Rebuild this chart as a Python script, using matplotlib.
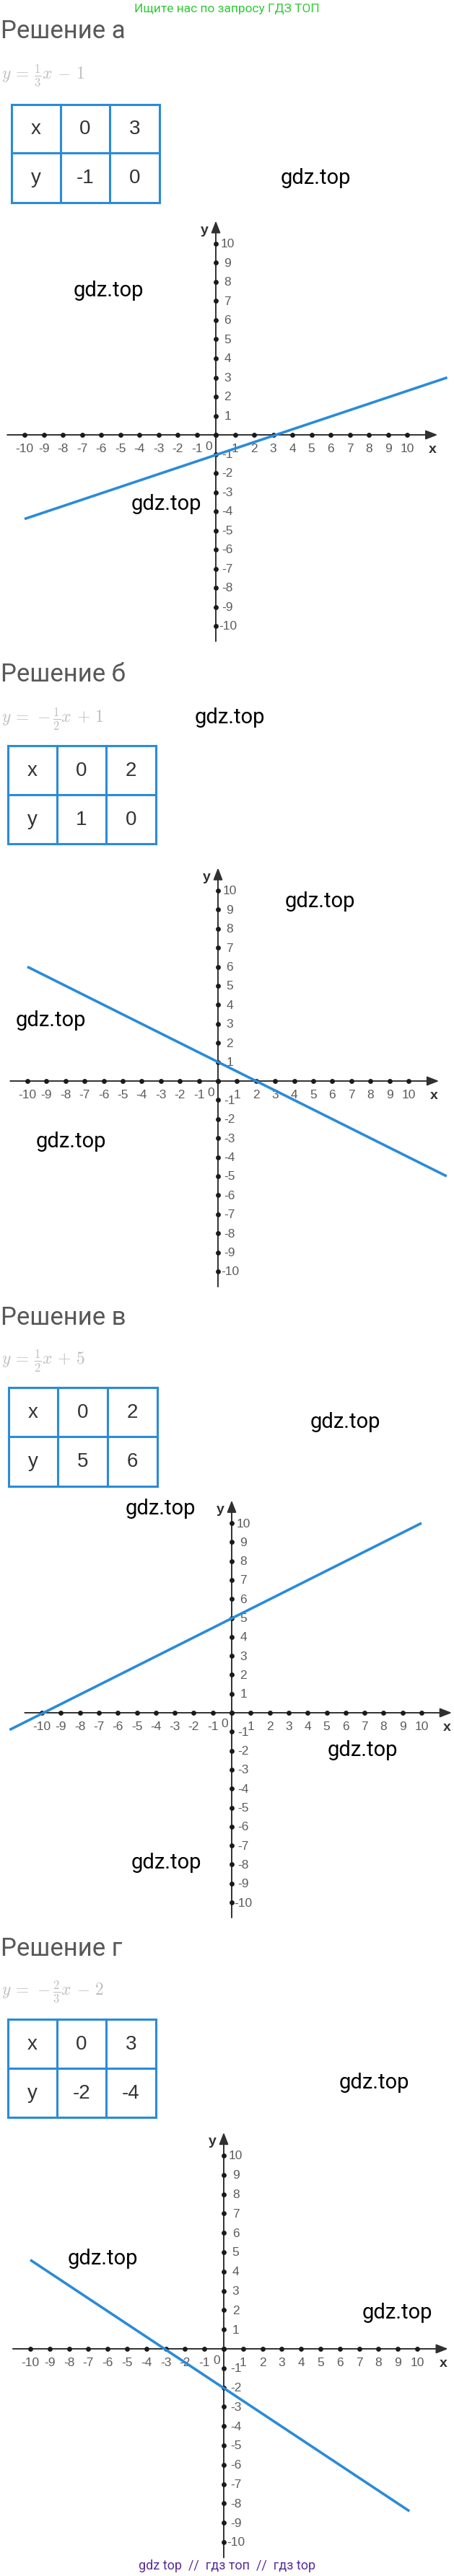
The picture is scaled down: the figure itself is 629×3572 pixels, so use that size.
import matplotlib
matplotlib.use("Agg")
import matplotlib.pyplot as plt

plt.rcParams["mathtext.fontset"] = "cm"

W, H, DPI = 629, 3573, 100

# ---------------- data ----------------
header = "Ищите нас по запросу ГДЗ ТОП"
footer = "gdz top  //  гдз топ  //  гдз top"
watermark = "gdz.top"
titles = ["Решение а", "Решение б", "Решение в", "Решение г"]
equations = [r"$y\,=\,\frac{1}{3}x\,-\,1$", r"$y\,=\,-\frac{1}{2}x\,+\,1$",
             r"$y\,=\,\frac{1}{2}x\,+\,5$", r"$y\,=\,-\frac{2}{3}x\,-\,2$"]
table_x = [["0", "3"], ["0", "2"], ["0", "2"], ["0", "3"]]
table_y = [["-1", "0"], ["1", "0"], ["5", "6"], ["-2", "-4"]]
line_x = [[-10, 12.1], [-10, 12.0], [-11.7, 10.0], [-10, 9.6]]
line_y = [[-4.4, 3.0], [6.0, -5.0], [-0.9, 10.0], [4.6, -8.4]]
ticks = list(range(-10, 11))

# ---------------- layout (pixels) ----------------
title_base = [53, 945, 1837, 2712]
eq_center = [105, 997, 1887, 2762]
table_cols = [[16, 84, 152, 221], [11, 79, 147, 216], [12, 80, 149, 218], [11, 79, 147, 216]]
table_rows = [[146, 213, 282], [1035, 1103, 1171], [1925, 1993, 2062], [2801, 2869, 2937]]
graph_origin = [(299, 604, 26.5), (302, 1500, 26.4), (321, 2376, 26.3), (310, 3258, 26.8)]
marks = [(437, 247), (150, 403), (230, 699),
         (318, 995), (443, 1250), (70, 1415), (98, 1583),
         (478, 1972), (222, 2092), (502, 2427), (230, 2583),
         (518, 2888), (142, 3132), (550, 3207)]

BLUE = "#2b8bd8"
AXC = "#303030"
TICKC = "#5c5c5c"

fig = plt.figure(figsize=(W / DPI, H / DPI), dpi=DPI)
fig.patch.set_facecolor("white")

# ---------------- graphs ----------------
for i, (X0, Y0, u) in enumerate(graph_origin):
    top = Y0 - 11.9 * u
    bottom = Y0 + 11.4 * u
    ax = fig.add_axes([0, 1 - bottom / H, 1, (bottom - top) / H])
    ax.set_xlim(-X0 / u, (W - X0) / u)
    ax.set_ylim(-(bottom - Y0) / u, (Y0 - top) / u)
    ax.axis("off")
    ap = dict(arrowstyle="-|>,head_length=0.9,head_width=0.35", color=AXC,
              lw=1.4, shrinkA=0, shrinkB=0, mutation_scale=11)
    ax.annotate("", xy=(11.6, 0), xytext=(-10.9, 0), arrowprops=ap)
    ax.annotate("", xy=(0, 11.2), xytext=(0, -10.8), arrowprops=ap)
    ax.plot(ticks, [0] * len(ticks), "o", ms=3.9, color="#1a1a1a", zorder=3)
    ax.plot([0] * len(ticks), ticks, "o", ms=3.9, color="#1a1a1a", zorder=3)
    for t in ticks:
        if t != 0:
            ax.text(t, -0.7, str(t), ha="center", va="center", fontsize=12.5,
                    color=TICKC, family="Liberation Sans")
            ax.text(0.62, t, str(t), ha="center", va="center", fontsize=12.5,
                    color=TICKC, family="Liberation Sans")
    ax.text(-0.38, -0.57, "0", ha="center", va="center", fontsize=12.5,
            color=TICKC, family="Liberation Sans")
    ax.text(11.35, -0.74, "x", ha="center", va="center", fontsize=14,
            fontweight="bold", color=AXC, family="Liberation Sans")
    ax.text(-0.6, 10.75, "y", ha="center", va="center", fontsize=14,
            fontweight="bold", color=AXC, family="Liberation Sans")
    ax.plot(line_x[i], line_y[i], color=BLUE, lw=2.6, solid_capstyle="butt", zorder=4)

# ---------------- overlay (pixel coords) ----------------
ov = fig.add_axes([0, 0, 1, 1])
ov.set_xlim(0, W)
ov.set_ylim(H, 0)
ov.axis("off")
ov.patch.set_alpha(0)

ov.text(W / 2, 12, header, ha="center", va="center", fontsize=12.5,
        color="#2fcb35", family="Roboto")

for i in range(4):
    ov.text(1, title_base[i], titles[i], ha="left", va="baseline", fontsize=25,
            color="#585858", family="Roboto")
    ov.text(2, eq_center[i], equations[i], ha="left", va="center", fontsize=17,
            color="#bdbdbd")
    cols = table_cols[i]
    rows = table_rows[i]
    for r in rows:
        ov.plot([cols[0], cols[-1]], [r, r], color=BLUE, lw=2.2, solid_capstyle="projecting")
    for c in cols:
        ov.plot([c, c], [rows[0], rows[-1]], color=BLUE, lw=2.2, solid_capstyle="projecting")
    cells = [["x"] + table_x[i], ["y"] + table_y[i]]
    for ri in range(2):
        cy = (rows[ri] + rows[ri + 1]) / 2
        for ci in range(3):
            cx = (cols[ci] + cols[ci + 1]) / 2
            ov.text(cx, cy, cells[ri][ci], ha="center", va="center", fontsize=20,
                    color="#333333", family="Liberation Sans")

for (mx, my) in marks:
    ov.text(mx, my, watermark, ha="center", va="center", fontsize=21,
            color="black", family="Roboto")

ov.text(W / 2, 3558, footer, ha="center", va="center", fontsize=13,
        color="#5b2c9a", family="Roboto")

fig.savefig("out.png", dpi=DPI, facecolor="white")
